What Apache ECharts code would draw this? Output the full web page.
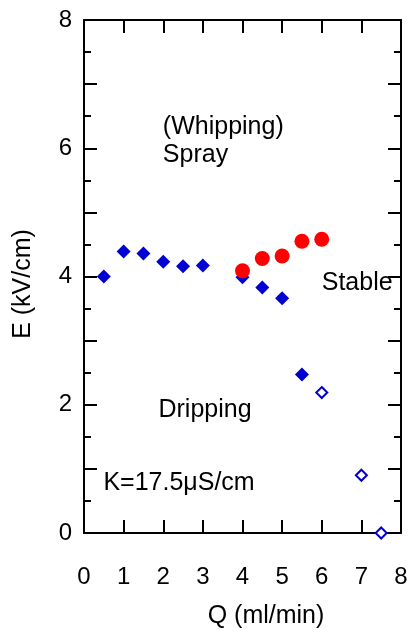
<!DOCTYPE html>
<html>
<head>
<meta charset="utf-8">
<script src="https://cdn.jsdelivr.net/npm/echarts@6/dist/echarts.min.js"></script>
<style>
  html, body { margin: 0; padding: 0; background: #fff; }
  #chart { width: 409px; height: 629px; }
</style>
</head>
<body>
<div id="chart"></div>
<script>
// flow rate Q (ml/min) and field E (kV/cm)
var dripQ = [0.5, 1, 1.5, 2, 2.5, 3, 4, 4.5, 5, 5.5];
var dripE = [4.0, 4.39, 4.36, 4.23, 4.16, 4.17, 3.99, 3.83, 3.66, 2.47];
var openQ = [6, 7, 7.5];
var openE = [2.19, 0.9, 0];
var stableQ = [4, 4.5, 5, 5.5, 6];
var stableE = [4.09, 4.28, 4.32, 4.55, 4.58];
var xTicks = [0, 1, 2, 3, 4, 5, 6, 7, 8];
var yTicks = [0, 2, 4, 6, 8];
// text notes placed in data coordinates
var notes = [
  [1.99, 6.33, '(Whipping)'],
  [1.99, 5.89, 'Spray'],
  [6.0, 3.89, 'Stable'],
  [1.88, 1.91, 'Dripping'],
  [0.49, 0.78, 'K=17.5\u03bcS/cm']
];

function pairs(xs, ys) {
  return xs.map(function (x, i) { return [x, ys[i]]; });
}

var FONT = 'Liberation Sans, Arial, sans-serif';
var black = { color: '#000', width: 2 };

var chart = echarts.init(document.getElementById('chart'));
chart.setOption({
  animation: false,
  textStyle: { fontFamily: FONT },
  grid: { left: 84, right: 8, top: 20, bottom: 96, containLabel: false, outerBoundsMode: 'none' },
  xAxis: [{
    type: 'value', min: xTicks[0], max: xTicks[xTicks.length - 1], interval: 1,
    position: 'bottom',
    name: 'Q (ml/min)', nameLocation: 'middle', nameGap: 71,
    nameTextStyle: { fontSize: 25, color: '#000', fontFamily: FONT, padding: [0, 0, 0, 47] },
    axisLine: { onZero: false, lineStyle: black },
    axisTick: { inside: true, length: 13, lineStyle: black },
    axisLabel: { margin: 32, fontSize: 24, color: '#000', fontFamily: FONT },
    splitLine: { show: false }
  }, {
    type: 'value', min: 0, max: 8, interval: 1, position: 'top',
    axisLine: { onZero: false, lineStyle: black },
    axisTick: { inside: true, length: 13, lineStyle: black },
    axisLabel: { show: false },
    splitLine: { show: false }
  }],
  yAxis: [{
    type: 'value', min: 0, max: 8, interval: 1, position: 'left',
    name: 'E (kV/cm)', nameLocation: 'middle', nameGap: 48, nameRotate: 90,
    nameTextStyle: { fontSize: 25, color: '#000', fontFamily: FONT, padding: [0, 15, 0, 0] },
    axisLine: { onZero: false, lineStyle: black },
    axisTick: { inside: true, length: 13, lineStyle: black },
    minorTick: { show: true, splitNumber: 2, length: 7, lineStyle: black },
    axisLabel: {
      margin: 12, fontSize: 24, color: '#000', fontFamily: FONT,
      formatter: function (v) { return yTicks.indexOf(v) >= 0 ? String(v) : ''; }
    },
    splitLine: { show: false },
    minorSplitLine: { show: false }
  }, {
    type: 'value', min: 0, max: 8, interval: 1, position: 'right',
    axisLine: { onZero: false, lineStyle: black },
    axisTick: { inside: true, length: 13, lineStyle: black },
    minorTick: { show: true, splitNumber: 2, length: 7, lineStyle: black },
    axisLabel: { show: false },
    splitLine: { show: false },
    minorSplitLine: { show: false }
  }],
  series: [{
    type: 'scatter', clip: false,
    symbol: 'diamond', symbolSize: 14,
    itemStyle: { color: '#0000d4', opacity: 1 },
    data: pairs(dripQ, dripE)
  }, {
    type: 'scatter', clip: false,
    symbol: 'diamond', symbolSize: 11,
    itemStyle: { color: '#fff', borderColor: '#0000d4', borderWidth: 2, opacity: 1 },
    data: pairs(openQ, openE)
  }, {
    type: 'scatter', clip: false,
    symbol: 'circle', symbolSize: 15,
    itemStyle: { color: '#ff0000', opacity: 1 },
    data: pairs(stableQ, stableE)
  }, {
    type: 'scatter', clip: false, silent: true,
    symbolSize: 0,
    itemStyle: { opacity: 1 },
    label: {
      show: true, position: 'inside', align: 'left', verticalAlign: 'middle',
      fontSize: 25, color: '#000', fontFamily: FONT,
      formatter: function (p) { return p.data[2]; }
    },
    data: notes
  }]
});
</script>
</body>
</html>
